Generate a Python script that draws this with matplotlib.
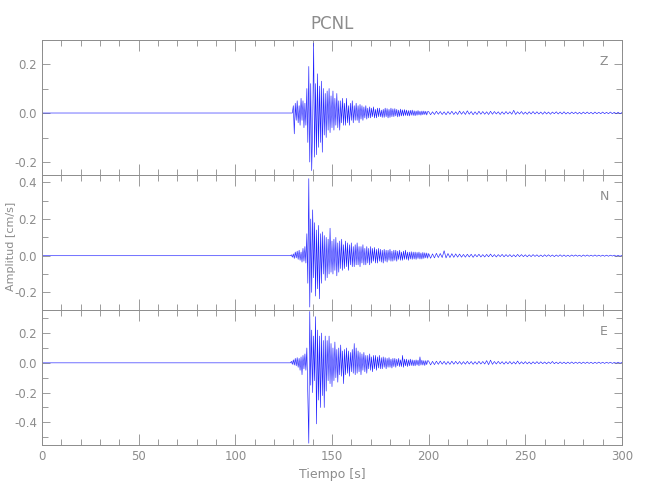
import numpy as np
import matplotlib
matplotlib.use("Agg")
import matplotlib.pyplot as plt
from matplotlib.ticker import MultipleLocator, FormatStrFormatter

# time grids: dense part of the record (0.5 s) and coda (1 s)
t_pre = [0.0]
t_fast = np.arange(127.0, 200.0, 0.5)
t_slow = np.arange(200.0, 301.0, 1.0)

# velocity values [cm/s]
z_fast = [
    0, 0, 0, 0, 0, 0, 0.03, -0.085, 0.04, -0.03,
    0.05, -0.04, 0.03, -0.05, 0.06, -0.03, 0.05, -0.06, 0.04, -0.05,
    0.10, -0.12, 0.19, -0.20, 0.12, -0.235, -0.05, 0.285, -0.18, 0.12,
    -0.17, 0.16, -0.14, 0.11, -0.12, 0.13, -0.16, 0.10, -0.09, 0.08,
    -0.10, 0.09, -0.07, 0.10, -0.08, 0.07, -0.06, 0.09, -0.07, 0.06,
    -0.05, 0.08, -0.06, 0.05, -0.07, 0.05, -0.04, 0.06, -0.05, 0.04,
    -0.05, 0.06, -0.04, 0.03, -0.05, 0.04, -0.03, 0.05, -0.04, 0.03,
    -0.03, 0.04, -0.03, 0.03, -0.04, 0.035, -0.025, 0.03, -0.03, 0.025,
    -0.02, 0.03, -0.025, 0.02, -0.02, 0.025, -0.02, 0.02, -0.015, 0.025,
    -0.02, 0.015, -0.02, 0.02, -0.015, 0.02, -0.015, 0.012, -0.018, 0.015,
    -0.018, 0.02, -0.015, 0.018, -0.02, 0.015, -0.018, 0.02, -0.015, 0.017,
    -0.015, 0.018, -0.012, 0.015, -0.016, 0.012, -0.014, 0.016, -0.012, 0.013,
    -0.012, 0.014, -0.01, 0.012, -0.011, 0.01, -0.012, 0.011, -0.009, 0.012,
    -0.01, 0.009, -0.011, 0.008, -0.009, 0.01, -0.008, 0.007, -0.009, 0.008,
    -0.007, 0.008, -0.006, 0.007, -0.008, 0.006,
]
z_slow = [
    0.006, -0.007, 0.005, -0.006, 0.007, -0.005, 0.006, -0.006, 0.005, -0.007,
    0.006, -0.005, 0.007, -0.006, 0.005, -0.006, 0.008, -0.005, 0.006, -0.006,
    0.009, -0.005, 0.006, -0.007, 0.005, -0.006, 0.007, -0.005, 0.006, -0.005,
    0.005, -0.006, 0.007, -0.005, 0.006, -0.004, 0.005, -0.006, 0.005, -0.005,
    0.006, -0.004, 0.005, -0.005, 0.011, -0.006, 0.005, -0.004, 0.006, -0.005,
    0.004, -0.005, 0.005, -0.004, 0.006, -0.004, 0.005, -0.004, 0.004, -0.005,
    0.005, -0.004, 0.004, -0.005, 0.004, -0.003, 0.005, -0.004, 0.004, -0.004,
    0.005, -0.004, 0.003, -0.004, 0.004, -0.003, 0.004, -0.004, 0.003, -0.004,
    0.004, -0.003, 0.004, -0.003, 0.003, -0.004, 0.004, -0.003, 0.003, -0.003,
    0.004, -0.003, 0.003, -0.003, 0.004, -0.003, 0.003, -0.003, 0.003, -0.003,
    0.002,
]

n_fast = [
    0, 0, 0, 0, 0.005, -0.008, 0.01, -0.015, 0.02, -0.012,
    0.025, -0.02, 0.03, -0.025, 0.02, -0.035, 0.04, -0.03, 0.05, -0.04,
    0.12, -0.15, 0.42, -0.28, 0.20, -0.20, 0.25, -0.12, 0.18, -0.22,
    0.14, -0.18, 0.165, -0.235, 0.12, -0.15, 0.13, -0.10, 0.11, -0.135,
    0.10, -0.12, 0.09, -0.10, 0.15, -0.09, 0.08, -0.10, 0.09, -0.08,
    0.10, -0.11, 0.07, -0.09, 0.08, -0.07, 0.09, -0.08, 0.06, -0.07,
    0.08, -0.06, 0.07, -0.08, 0.06, -0.05, 0.07, -0.06, 0.05, -0.06,
    0.06, -0.05, 0.07, -0.05, 0.05, -0.06, 0.05, -0.04, 0.06, -0.05,
    0.04, -0.05, 0.05, -0.04, 0.04, -0.05, 0.05, -0.04, 0.04, -0.03,
    0.045, -0.04, 0.035, -0.04, 0.04, -0.03, 0.035, -0.035, 0.03, -0.04,
    0.035, -0.03, 0.03, -0.035, 0.03, -0.025, 0.035, -0.03, 0.025, -0.03,
    0.03, -0.025, 0.03, -0.03, 0.025, -0.02, 0.03, -0.025, 0.02, -0.025,
    0.025, -0.02, 0.03, -0.02, 0.02, -0.025, 0.02, -0.018, 0.022, -0.02,
    0.02, -0.018, 0.02, -0.02, 0.018, -0.015, 0.02, -0.018, 0.015, -0.018,
    0.018, -0.015, 0.016, -0.012, 0.015, -0.014,
]
n_slow = [
    0.012, -0.014, 0.01, -0.012, 0.013, -0.01, 0.012, -0.01, 0.027, -0.012,
    0.012, -0.01, 0.011, -0.009, 0.01, -0.008, 0.009, -0.008, 0.007, -0.008,
    0.008, -0.007, 0.008, -0.009, 0.007, -0.006, 0.008, -0.007, 0.006, -0.007,
    0.007, -0.006, 0.009, -0.006, 0.006, -0.007, 0.006, -0.005, 0.007, -0.006,
    0.006, -0.005, 0.006, -0.006, 0.005, -0.006, 0.007, -0.005, 0.006, -0.005,
    0.005, -0.006, 0.005, -0.005, 0.006, -0.004, 0.005, -0.005, 0.004, -0.005,
    0.005, -0.004, 0.005, -0.004, 0.004, -0.005, 0.004, -0.004, 0.005, -0.004,
    0.004, -0.004, 0.003, -0.004, 0.004, -0.003, 0.004, -0.003, 0.003, -0.004,
    0.004, -0.003, 0.004, -0.003, 0.003, -0.003, 0.004, -0.003, 0.003, -0.003,
    0.003, -0.003, 0.003, -0.003, 0.003, -0.002, 0.003, -0.003, 0.002, -0.003,
    0.002,
]

e_fast = [
    0, 0, 0, 0, 0.01, -0.01, 0.02, -0.015, 0.03, -0.02,
    0.035, -0.03, 0.03, -0.05, 0.04, -0.08, 0.05, -0.04, 0.06, -0.05,
    0.10, -0.21, -0.54, 0.345, -0.15, 0.22, -0.20, 0.18, -0.12, 0.31,
    -0.41, 0.22, -0.25, 0.18, -0.30, 0.20, -0.22, 0.15, -0.30, 0.18,
    -0.19, 0.15, -0.12, 0.18, -0.14, 0.13, -0.16, 0.10, -0.12, 0.14,
    -0.10, 0.09, -0.13, 0.10, -0.08, 0.12, -0.09, 0.08, -0.14, 0.09,
    -0.08, 0.10, -0.07, 0.08, -0.09, 0.07, -0.06, 0.09, -0.07, 0.13,
    -0.08, 0.10, -0.07, 0.08, -0.06, 0.07, -0.08, 0.06, -0.05, 0.07,
    -0.06, 0.05, -0.07, 0.05, -0.04, 0.06, -0.05, 0.04, -0.06, 0.05,
    -0.04, 0.05, -0.05, 0.04, -0.035, 0.05, -0.04, 0.035, -0.04, 0.04,
    -0.03, 0.035, -0.04, 0.03, -0.03, 0.035, -0.03, 0.025, -0.035, 0.03,
    -0.025, 0.03, -0.03, 0.025, -0.02, 0.03, -0.025, 0.02, -0.025, 0.05,
    -0.03, 0.025, -0.02, 0.025, -0.025, 0.02, -0.02, 0.025, -0.018, 0.02,
    -0.02, 0.018, -0.02, 0.02, -0.015, 0.018, -0.02, 0.04, -0.015, 0.018,
    -0.015, 0.015, -0.018, 0.015, -0.012, 0.015,
]
e_slow = [
    0.012, -0.014, 0.01, -0.012, 0.011, -0.01, 0.012, -0.009, 0.01, -0.011,
    0.009, -0.01, 0.011, -0.009, 0.01, -0.008, 0.009, -0.01, 0.008, -0.009,
    0.01, -0.008, 0.009, -0.01, 0.008, -0.009, 0.01, -0.008, 0.009, -0.008,
    0.015, -0.012, 0.018, -0.01, 0.009, -0.008, 0.01, -0.007, 0.008, -0.009,
    0.008, -0.007, 0.009, -0.008, 0.007, -0.008, 0.012, -0.008, 0.007, -0.007,
    0.008, -0.007, 0.006, -0.008, 0.007, -0.006, 0.008, -0.006, 0.007, -0.006,
    0.006, -0.007, 0.006, -0.005, 0.009, -0.006, 0.005, -0.006, 0.006, -0.005,
    0.005, -0.006, 0.005, -0.005, 0.006, -0.005, 0.005, -0.004, 0.005, -0.005,
    0.005, -0.004, 0.005, -0.004, 0.004, -0.005, 0.004, -0.004, 0.005, -0.004,
    0.004, -0.004, 0.004, -0.003, 0.004, -0.004, 0.003, -0.003, 0.004, -0.003,
    0.003,
]

channels = ["Z", "N", "E"]
ylims = [(-0.253, 0.298), (-0.296, 0.44), (-0.552, 0.355)]

gray = "#8c8c8c"
plt.rcParams["font.family"] = ["DejaVu Sans"]

t_all = np.concatenate([t_pre, t_fast, t_slow])
traces = [
    np.concatenate([[0.0], z_fast, z_slow]),
    np.concatenate([[0.0], n_fast, n_slow]),
    np.concatenate([[0.0], e_fast, e_slow]),
]

fig = plt.figure(figsize=(6.5, 5.0), dpi=100)
bottoms = [0.65, 0.38, 0.11]
axes = []
for i in range(3):
    ax = fig.add_axes([0.0646, bottoms[i], 0.8923, 0.27])
    ax.plot(t_all, traces[i], color="#2020ff", lw=0.45)
    ax.set_xlim(0, 300)
    ax.set_ylim(*ylims[i])
    ax.xaxis.set_major_locator(MultipleLocator(50))
    ax.xaxis.set_minor_locator(MultipleLocator(10))
    ax.yaxis.set_major_locator(MultipleLocator(0.2))
    ax.yaxis.set_minor_locator(MultipleLocator(0.1))
    ax.tick_params(which="both", direction="in", top=True, right=True,
                   color=gray, labelcolor=gray, labelsize=8.5, width=0.6)
    ax.tick_params(axis="x", which="major", length=8)
    ax.tick_params(axis="x", which="minor", length=4)
    ax.tick_params(axis="y", which="major", length=6)
    ax.tick_params(axis="y", which="minor", length=4)
    for sp in ax.spines.values():
        sp.set_color(gray)
        sp.set_linewidth(0.7)
    ax.yaxis.set_major_formatter(FormatStrFormatter("%.1f"))
    if i < 2:
        ax.tick_params(axis="x", labelbottom=False)
    ax.text(0.969, 0.84, channels[i], transform=ax.transAxes, color=gray,
            fontsize=9, ha="center", va="center")
    axes.append(ax)

axes[0].set_title("PCNL", color=gray, fontsize=12, pad=8)
fig.text(11 / 650, 1 - 246 / 500, "Amplitud [cm/s]", color=gray, fontsize=8,
         rotation=90, ha="center", va="center")
axes[2].set_xlabel("Tiempo [s]", color=gray, fontsize=9)

fig.savefig("out.png", dpi=100)
